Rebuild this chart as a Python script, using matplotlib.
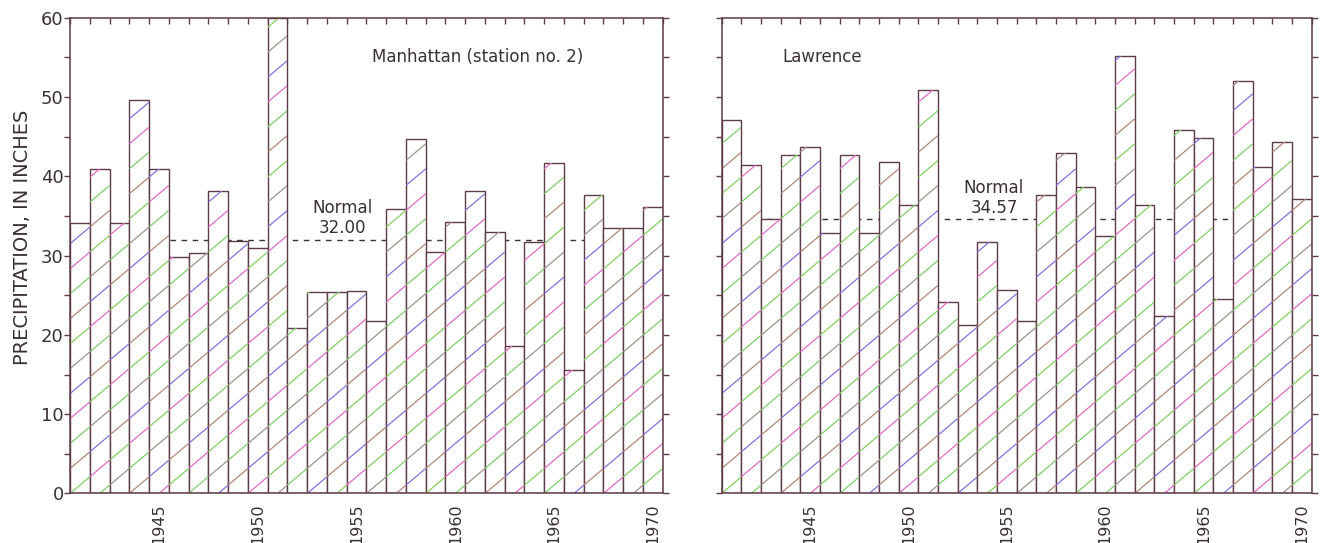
import numpy as np
import matplotlib.pyplot as plt
from matplotlib.collections import LineCollection

years = list(range(1941, 1971))
manhattan = [34.1, 40.9, 34.1, 49.6, 40.9, 29.8, 30.3, 38.2, 31.9, 31.0,
             60.0, 20.9, 25.4, 25.4, 25.5, 21.7, 35.9, 44.7, 30.5, 34.2,
             38.1, 33.0, 18.6, 31.7, 41.7, 15.6, 37.7, 33.5, 33.5, 36.1]
lawrence = [47.1, 41.4, 34.6, 42.7, 43.7, 32.8, 42.7, 32.8, 41.8, 36.4,
            50.9, 24.1, 21.3, 31.7, 25.7, 21.8, 37.6, 42.9, 38.6, 32.5,
            55.2, 36.4, 22.4, 45.8, 44.9, 24.5, 52.0, 41.2, 44.3, 37.1]
manhattan_normal = 32.00
lawrence_normal = 34.57
year_labels = [1945, 1950, 1955, 1960, 1965, 1970]

INK = '#3b3034'
EDGE = '#5e3b48'
HATCH_COLORS = ['#84cf60', '#a0928a', '#8272dc', '#df6cc2', '#7fcf6c', '#b08878']


def hatch_bars(ax, bars, slope=2.1, step=3.15):
    # diagonal hatch drawn by hand so the line colours can vary like the scan
    x_ref = ax.get_xlim()[0]
    for i, bar in enumerate(bars):
        x0 = bar.get_x()
        x1 = x0 + bar.get_width()
        h = bar.get_height()
        base0 = slope * (x0 - x_ref)
        kmin = int(np.floor((0 - slope * (x1 - x_ref)) / step)) - 1
        kmax = int(np.ceil((h - base0) / step)) + 1
        segs, cols = [], []
        for k in range(kmin, kmax + 1):
            ya = base0 + k * step
            yb = slope * (x1 - x_ref) + k * step
            segs.append([(x0, ya), (x1, yb)])
            cols.append(HATCH_COLORS[(k * 5 + i * 3) % len(HATCH_COLORS)])
        lc = LineCollection(segs, colors=cols, linewidths=0.9, zorder=2.5)
        ax.add_collection(lc)
        # clip after adding, otherwise add_collection resets it to the axes patch
        lc.set_clip_path(bar)


def draw_panel(ax, values, normal, title, title_x, normal_x, normal_y, show_labels):
    ax.set_xlim(1940.5, 1970.5)
    ax.set_ylim(0, 60)
    ax.axhline(normal, color=INK, lw=1.0, ls=(0, (4, 4)), zorder=1)
    bars = ax.bar(years, values, width=1.0, facecolor='white', edgecolor=EDGE,
                  linewidth=1.0, zorder=2)
    hatch_bars(ax, bars)

    ax.text(title_x, 0.917, title, transform=ax.transAxes, ha='center', va='center',
            fontsize=12, color=INK)
    ax.text(normal_x, normal_y, 'Normal\n%.2f' % normal, transform=ax.transAxes,
            ha='center', va='center', fontsize=12, color=INK, linespacing=1.15)

    for s in ax.spines.values():
        s.set_color(EDGE)
        s.set_linewidth(1.1)

    ticks = list(range(0, 61, 5))
    if show_labels:
        ax.set_yticks(ticks, labels=[str(t) if t % 10 == 0 else '' for t in ticks])
    else:
        ax.set_yticks(ticks, labels=[''] * len(ticks))
    ax.tick_params(axis='y', which='major', left=True, right=True, direction='out',
                   length=4, width=1.0, color=EDGE, labelsize=13, labelcolor=INK, pad=0.5)

    ax.set_xticks(year_labels, labels=[str(y) for y in year_labels])
    ax.set_xticks(np.arange(1940.5, 1971, 1.0), minor=True)
    ax.tick_params(axis='x', which='major', bottom=True, top=False, length=0,
                   labelrotation=90, labelsize=11.5, labelcolor=INK, pad=7)
    ax.tick_params(axis='x', which='minor', bottom=False, top=True, direction='in',
                   length=4, width=1.0, color=EDGE)


fig = plt.figure(figsize=(13.29, 5.43), dpi=100)
ax1 = fig.add_axes([0.0527, 0.0912, 0.446, 0.876])
ax2 = fig.add_axes([0.543, 0.0912, 0.444, 0.876])

draw_panel(ax1, manhattan, manhattan_normal, 'Manhattan (station no. 2)',
           0.687, 0.459, 0.579, True)
draw_panel(ax2, lawrence, lawrence_normal, 'Lawrence',
           0.17, 0.4615, 0.621, False)

fig.text(0.0166, 0.5635, 'PRECIPITATION, IN INCHES', rotation=90, ha='center',
         va='center', fontsize=14, color=INK)

fig.savefig('out.png', dpi=100, facecolor='white')
